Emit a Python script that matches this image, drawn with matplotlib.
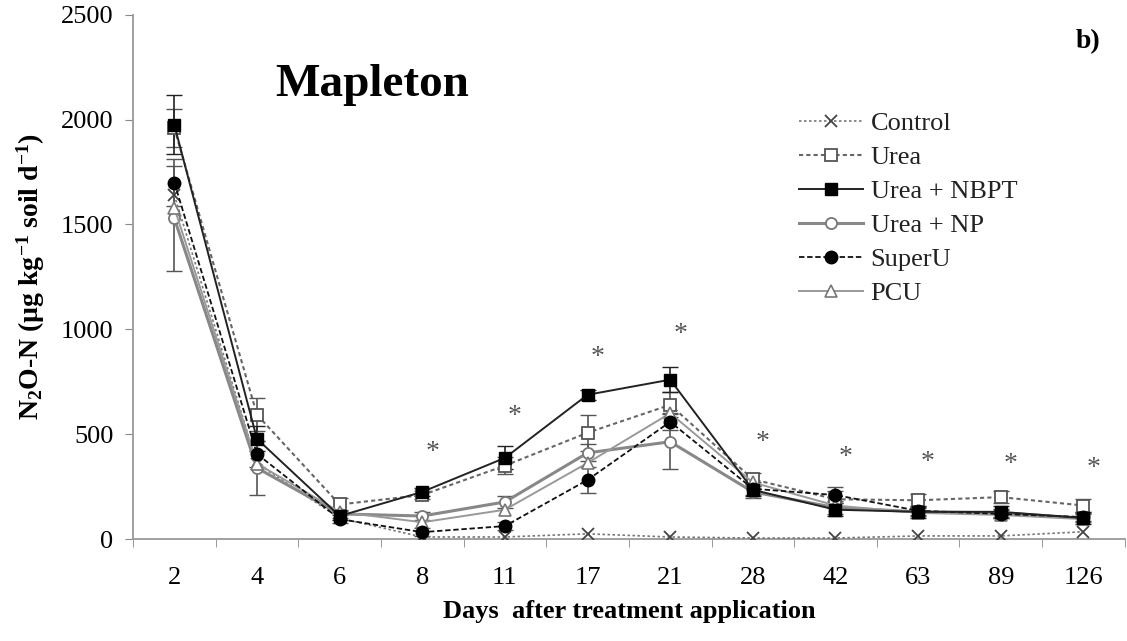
import numpy as np
import matplotlib
matplotlib.use("Agg")
import matplotlib.pyplot as plt

plt.rcParams['font.family'] = ['Liberation Serif', 'DejaVu Serif']
plt.rcParams['mathtext.fontset'] = 'custom'
plt.rcParams['mathtext.rm'] = 'Liberation Serif'
plt.rcParams['mathtext.bf'] = 'Liberation Serif:bold'
plt.rcParams['mathtext.default'] = 'bf'

# sampling days (categorical axis)
days = ['2', '4', '6', '8', '11', '17', '21', '28', '42', '63', '89', '126']

# N2O-N flux, ug kg-1 soil d-1
control = [1640, 360, 100, 10, 10, 25, 10, 5, 5, 15, 15, 35]
urea = [1960, 593, 165, 210, 350, 507, 640, 285, 190, 185, 200, 160]
nbpt = [1975, 478, 110, 225, 387, 688, 760, 235, 140, 130, 130, 100]
np_ = [1530, 339, 120, 110, 177, 411, 464, 225, 150, 130, 125, 100]
superu = [1700, 406, 95, 33, 62, 282, 559, 240, 210, 135, 120, 105]
pcu = [1580, 360, 130, 80, 140, 363, 600, 270, 160, 125, 115, 95]

# standard errors (only the visible ones)
urea_err = [90, 80, 30, 20, 40, 85, 60, 30, 40, 30, 30, 30]
nbpt_err = [140, 60, 20, 20, 55, 25, 60, 30, 30, 30, 30, 30]
np_err = [250, 130, 20, 20, 30, 40, 130, 30, 30, 20, 20, 20]
superu_err = [110, 60, 20, 20, 20, 60, 40, 30, 40, 20, 20, 20]

# significance asterisks (day index, height)
star_idx = [3, 4, 5, 6, 7, 8, 9, 10, 11]
star_y = [411, 583, 865, 975, 459, 387, 363, 354, 335]

x = np.arange(len(days))

fig = plt.figure(figsize=(11.27, 6.41), dpi=100)
ax = fig.add_axes([0.118, 0.159, 0.880, 0.818])

ec = '#555555'
ax.errorbar(x, urea, yerr=urea_err, fmt='none', ecolor=ec, elinewidth=1.2, capsize=6, zorder=2)
ax.errorbar(x, nbpt, yerr=nbpt_err, fmt='none', ecolor='#222222', elinewidth=1.2, capsize=6, zorder=2)
ax.errorbar(x, np_, yerr=np_err, fmt='none', ecolor=ec, elinewidth=1.2, capsize=6, zorder=2)
ax.errorbar(x, superu, yerr=superu_err, fmt='none', ecolor=ec, elinewidth=1.2, capsize=6, zorder=2)

ax.plot(x, control, ls=(0, (1.5, 1.5)), color='#777777', lw=1.2, marker='x', ms=8,
        mec='#444444', mew=1.3, label='Control', zorder=3)
ax.plot(x, urea, ls=(0, (2, 1.5)), color='#666666', lw=1.5, marker='s', ms=9,
        mfc='white', mec='#555555', mew=1.3, label='Urea', zorder=4)
ax.plot(x, nbpt, ls='-', color='#222222', lw=1.4, marker='s', ms=9,
        mfc='black', mec='black', label='Urea + NBPT', zorder=6)
ax.plot(x, np_, ls='-', color='#888888', lw=2.2, marker='o', ms=8,
        mfc='white', mec='#777777', mew=1.3, label='Urea + NP', zorder=4)
ax.plot(x, superu, ls=(0, (3, 1.5)), color='#111111', lw=1.3, marker='o', ms=9,
        mfc='black', mec='black', label='SuperU', zorder=5)
ax.plot(x, pcu, ls='-', color='#999999', lw=1.4, marker='^', ms=8,
        mfc='white', mec='#777777', mew=1.2, label='PCU', zorder=4)

for i, yv in zip(star_idx, star_y):
    ax.text(i + 0.12, yv, '*', ha='center', va='center', fontsize=20, color='#555555')

ax.set_xlim(-0.5, len(days) - 0.5)
ax.set_ylim(0, 2500)
ax.set_xticks(x)
ax.set_xticklabels(days)
ax.set_xticks(np.arange(-0.5, len(days), 1.0), minor=True)
ax.tick_params(axis='x', which='major', length=0, pad=20, labelsize=19)
ax.tick_params(axis='x', which='minor', length=6, color='#888888', direction='out')
ax.set_yticks([0, 500, 1000, 1500, 2000, 2500])
ax.tick_params(axis='y', length=6, color='#888888', labelsize=19, pad=8)

for s in ['top', 'right']:
    ax.spines[s].set_visible(False)
for s in ['left', 'bottom']:
    ax.spines[s].set_color('#999999')
    ax.spines[s].set_linewidth(1.3)

ax.set_xlabel('Days  after treatment application', fontsize=19, fontweight='bold', labelpad=8)
ax.set_ylabel('N$_2$O-N (µg kg$^{-1}$ soil d$^{-1}$)', fontsize=20, fontweight='bold', labelpad=10)

fig.text(0.33, 0.868, 'Mapleton', fontsize=34, fontweight='bold', ha='center', va='center')
fig.text(0.965, 0.935, 'b)', fontsize=20, fontweight='bold', ha='center', va='center')

ax.legend(loc='upper left', bbox_to_anchor=(0.700, 0.842), bbox_transform=fig.transFigure,
          frameon=False, fontsize=19, handlelength=2.4, handletextpad=0.3,
          labelspacing=0.4, borderaxespad=0, labelcolor='#222222')

fig.savefig('out.png', dpi=100)
